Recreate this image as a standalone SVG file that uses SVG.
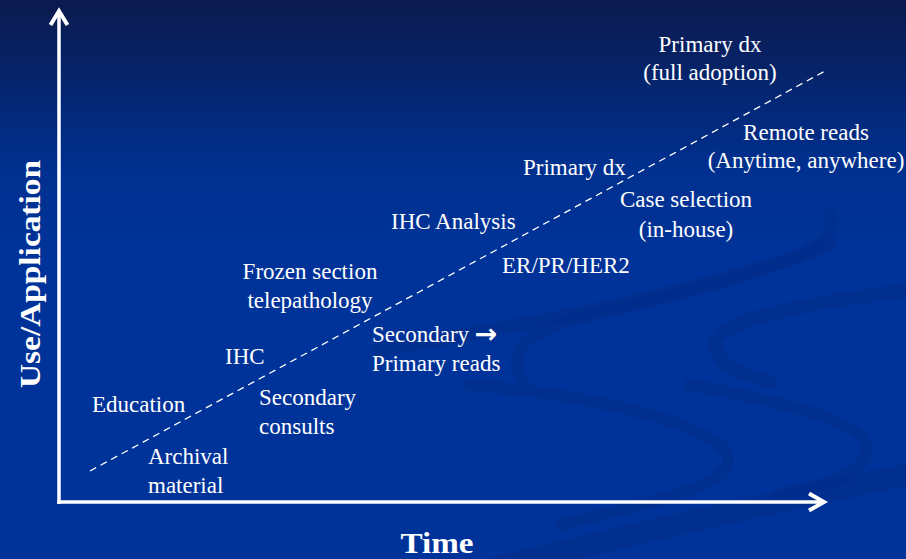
<svg xmlns="http://www.w3.org/2000/svg" width="906" height="559" viewBox="0 0 906 559">
  <defs>
    <linearGradient id="bg" x1="0" y1="0" x2="0" y2="1">
      <stop offset="0" stop-color="#0b1a4e"/>
      <stop offset="0.3" stop-color="#00308f"/>
      <stop offset="0.45" stop-color="#003399"/>
      <stop offset="1" stop-color="#003399"/>
    </linearGradient>
    <style>
      .swoosh { fill: none; stroke: #002d8a; stroke-linecap: round; opacity: 0.6; }
      .axis { fill: none; stroke: #ffffff; stroke-width: 3.5; }
      .head { fill: none; stroke: #ffffff; stroke-width: 4; stroke-linejoin: miter; stroke-linecap: butt; }
      .trend { fill: none; stroke: #ffffff; stroke-width: 1.3; stroke-dasharray: 7 5; }
      .lbl { font-family: "Liberation Serif", "DejaVu Serif", serif; font-size: 23px; fill: #ffffff; }
      .ctr { text-anchor: middle; }
      .axlbl { font-family: "Liberation Serif", "DejaVu Serif", serif; font-size: 30px; font-weight: bold; fill: #ffffff; text-anchor: middle; }
      .arr { font-family: "DejaVu Sans", sans-serif; font-weight: bold; font-size: 27px; }
    </style>
  </defs>

  <!-- background -->
  <rect x="0" y="0" width="906" height="559" fill="url(#bg)"/>
  <g id="background-swooshes">
    <path class="swoosh" stroke-width="22" d="M 430 585 C 600 540 760 505 930 470"/>
    <path class="swoosh" stroke-width="12" d="M 690 385 C 800 405 875 425 866 455 C 858 478 820 486 780 494"/>
    <path class="swoosh" stroke-width="12" d="M 470 385 C 600 395 735 430 728 462 C 722 488 660 500 560 525"/>
    <path class="swoosh" stroke-width="14" d="M 930 288 C 820 300 722 318 716 342 C 712 360 735 372 770 382"/>
    <path class="swoosh" stroke-width="12" d="M 830 215 C 850 255 720 285 580 318 C 530 330 505 350 522 378" opacity="0.4"/>
    <path class="swoosh" stroke-width="14" d="M 380 350 C 520 325 680 300 830 245" opacity="0.35"/>
  </g>

  <!-- axes -->
  <g id="axes">
    <line class="axis" x1="59" y1="11" x2="59" y2="504"/>
    <line class="axis" x1="57.3" y1="502" x2="822" y2="502"/>
    <path class="head" d="M 50.5 25 L 59 11 L 67.5 25"/>
    <path class="head" d="M 809 493.5 L 824 502 L 809 510.5"/>
  </g>

  <!-- trend line -->
  <g id="connectors">
    <line class="trend" x1="90" y1="471" x2="827" y2="70"/>
  </g>

  <!-- axis labels -->
  <g id="axis-y-label">
    <text class="axlbl" transform="translate(40 274) rotate(-90)" textLength="228" lengthAdjust="spacingAndGlyphs">Use/Application</text>
  </g>
  <g id="axis-x-label">
    <text class="axlbl" x="437" y="553" textLength="73" lengthAdjust="spacingAndGlyphs">Time</text>
  </g>

  <!-- milestones -->
  <g id="primary-dx-full">
    <text class="lbl ctr" x="710" y="52">Primary dx</text>
    <text class="lbl ctr" x="710" y="80">(full adoption)</text>
  </g>
  <g id="remote-reads">
    <text class="lbl ctr" x="806" y="140">Remote reads</text>
    <text class="lbl ctr" x="806" y="168">(Anytime, anywhere)</text>
  </g>
  <g id="primary-dx">
    <text class="lbl" x="523" y="175">Primary dx</text>
  </g>
  <g id="case-selection">
    <text class="lbl ctr" x="686" y="207">Case selection</text>
    <text class="lbl ctr" x="686" y="237">(in-house)</text>
  </g>
  <g id="ihc-analysis">
    <text class="lbl" x="391" y="229">IHC Analysis</text>
  </g>
  <g id="er-pr-her2">
    <text class="lbl" x="502" y="273">ER/PR/HER2</text>
  </g>
  <g id="frozen-section">
    <text class="lbl ctr" x="310" y="279">Frozen section</text>
    <text class="lbl ctr" x="310" y="308">telepathology</text>
  </g>
  <g id="secondary-primary">
    <text class="lbl" x="372" y="342">Secondary <tspan class="arr" dy="1">→</tspan></text>
    <text class="lbl" x="372" y="371">Primary reads</text>
  </g>
  <g id="ihc">
    <text class="lbl" x="225" y="364">IHC</text>
  </g>
  <g id="education">
    <text class="lbl" x="92" y="412">Education</text>
  </g>
  <g id="secondary-consults">
    <text class="lbl" x="259" y="405">Secondary</text>
    <text class="lbl" x="259" y="434">consults</text>
  </g>
  <g id="archival">
    <text class="lbl" x="148" y="464">Archival</text>
    <text class="lbl" x="148" y="493">material</text>
  </g>
</svg>
